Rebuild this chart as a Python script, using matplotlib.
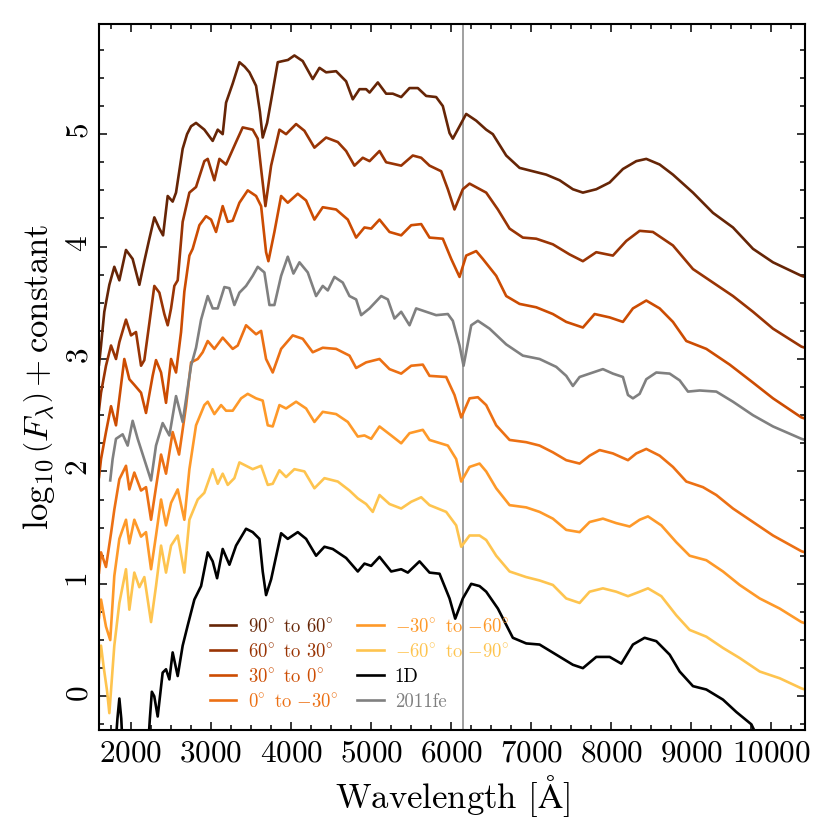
import matplotlib
matplotlib.use('Agg')
import matplotlib.pyplot as plt
from matplotlib.ticker import MultipleLocator

plt.rcParams['font.family'] = 'cmr10'
plt.rcParams['mathtext.fontset'] = 'cm'
plt.rcParams['axes.formatter.use_mathtext'] = True
plt.rcParams['axes.unicode_minus'] = False

# spectra (wavelength in Angstrom, log10 flux + offset)
wave_9060 = [1600, 1625, 1666, 1729, 1791, 1854, 1937, 2020, 2104, 2166, 2229, 2291, 2354, 2400, 2458,
             2520, 2562, 2645, 2700, 2750, 2812, 2916, 3020, 3083, 3145, 3187, 3270, 3354, 3420, 3479,
             3562, 3610, 3645, 3700, 3750, 3833, 3895, 3960, 4041, 4145, 4270, 4354, 4437, 4562, 4687,
             4770, 4854, 4937, 4980, 5083, 5187, 5270, 5375, 5479, 5583, 5687, 5812, 5895, 5979, 6020,
             6104, 6187, 6312, 6437, 6520, 6687, 6854, 7020, 7187, 7354, 7520, 7645, 7812, 7979, 8145,
             8312, 8437, 8604, 8770, 9020, 9270, 9520, 9770, 10020, 10375, 10420]
flux_9060 = [2.95, 3.12, 3.42, 3.66, 3.82, 3.70, 3.97, 3.89, 3.66, 3.87, 4.07, 4.26, 4.16, 4.10, 4.45,
             4.40, 4.48, 4.87, 5.00, 5.07, 5.10, 5.04, 4.94, 5.04, 5.00, 5.28, 5.45, 5.64, 5.60, 5.55,
             5.43, 5.20, 4.97, 5.10, 5.30, 5.64, 5.65, 5.66, 5.70, 5.65, 5.49, 5.59, 5.55, 5.56, 5.47,
             5.31, 5.40, 5.40, 5.37, 5.46, 5.36, 5.36, 5.33, 5.41, 5.41, 5.34, 5.33, 5.25, 5.01, 4.96,
             5.07, 5.18, 5.12, 5.04, 5.00, 4.81, 4.70, 4.67, 4.64, 4.59, 4.51, 4.48, 4.51, 4.57, 4.69,
             4.76, 4.78, 4.73, 4.64, 4.48, 4.30, 4.17, 3.98, 3.86, 3.74, 3.73]

wave_6030 = [1600, 1625, 1687, 1750, 1812, 1854, 1937, 2000, 2062, 2125, 2166, 2229, 2291, 2354, 2416,
             2458, 2500, 2541, 2583, 2645, 2729, 2812, 2916, 2958, 3041, 3104, 3187, 3312, 3395, 3520,
             3583, 3625, 3679, 3750, 3854, 3937, 4062, 4166, 4291, 4437, 4583, 4687, 4791, 4895, 4980,
             5104, 5187, 5375, 5520, 5625, 5729, 5875, 5958, 6041, 6145, 6229, 6437, 6583, 6729, 6895,
             7062, 7270, 7479, 7645, 7812, 8020, 8187, 8354, 8520, 8770, 9020, 9270, 9520, 9770, 10020,
             10375, 10420]
flux_6030 = [2.55, 2.70, 2.94, 3.12, 3.00, 3.15, 3.35, 3.21, 3.24, 2.94, 2.99, 3.32, 3.65, 3.59, 3.40,
             3.30, 3.45, 3.65, 3.70, 4.22, 4.48, 4.53, 4.76, 4.78, 4.59, 4.78, 4.73, 4.93, 5.06, 5.04,
             4.96, 4.69, 4.36, 4.72, 5.04, 5.00, 5.09, 5.03, 4.88, 4.97, 4.93, 4.85, 4.72, 4.79, 4.76,
             4.85, 4.75, 4.72, 4.81, 4.79, 4.72, 4.67, 4.51, 4.33, 4.51, 4.56, 4.48, 4.33, 4.16, 4.08,
             4.07, 4.02, 3.93, 3.87, 3.95, 3.92, 4.05, 4.14, 4.13, 4.01, 3.80, 3.68, 3.56, 3.42, 3.27,
             3.11, 3.10]

wave_300 = [1600, 1625, 1687, 1750, 1812, 1916, 1979, 2041, 2125, 2187, 2270, 2312, 2375, 2437, 2500,
            2562, 2625, 2666, 2729, 2770, 2854, 2937, 3000, 3062, 3145, 3208, 3270, 3354, 3458, 3562,
            3625, 3687, 3716, 3791, 3875, 3958, 4083, 4187, 4291, 4395, 4562, 4708, 4812, 4916, 5000,
            5104, 5229, 5375, 5500, 5625, 5729, 5895, 6000, 6104, 6187, 6312, 6395, 6562, 6687, 6854,
            7062, 7270, 7437, 7645, 7791, 7979, 8145, 8270, 8437, 8604, 8770, 8937, 9187, 9479, 9770,
            10020, 10375, 10420]
flux_300 = [1.95, 2.11, 2.35, 2.58, 2.41, 3.00, 2.82, 2.77, 2.70, 2.52, 2.85, 2.99, 2.88, 2.61, 3.00,
            2.88, 3.24, 3.60, 3.92, 3.98, 4.19, 4.27, 4.24, 4.13, 4.36, 4.22, 4.23, 4.39, 4.50, 4.45,
            4.36, 3.95, 3.87, 4.13, 4.45, 4.39, 4.47, 4.41, 4.24, 4.35, 4.33, 4.24, 4.08, 4.17, 4.16,
            4.24, 4.13, 4.10, 4.19, 4.20, 4.08, 4.07, 3.89, 3.73, 3.92, 3.96, 3.89, 3.74, 3.56, 3.49,
            3.46, 3.40, 3.33, 3.28, 3.40, 3.37, 3.33, 3.45, 3.52, 3.45, 3.33, 3.16, 3.09, 2.95, 2.79,
            2.65, 2.48, 2.47]

wave_0m30 = [1600, 1625, 1687, 1750, 1791, 1854, 1937, 1979, 2041, 2125, 2187, 2250, 2312, 2375, 2437,
             2520, 2600, 2687, 2750, 2833, 2895, 2958, 3041, 3145, 3270, 3333, 3437, 3562, 3625, 3687,
             3770, 3875, 4020, 4145, 4270, 4395, 4562, 4729, 4812, 4937, 5104, 5229, 5375, 5500, 5645,
             5729, 5937, 6041, 6125, 6229, 6333, 6437, 6562, 6729, 6937, 7104, 7270, 7437, 7604, 7729,
             7854, 8020, 8208, 8312, 8437, 8604, 8770, 8937, 9145, 9312, 9520, 9770, 10020, 10375, 10420]
flux_0m30 = [1.10, 1.28, 1.15, 1.45, 1.66, 1.93, 2.05, 1.84, 1.99, 1.83, 1.86, 1.57, 1.86, 2.15, 1.98,
             2.35, 2.15, 2.58, 2.97, 3.00, 3.06, 3.16, 3.09, 3.19, 3.09, 3.12, 3.30, 3.22, 3.25, 3.00,
             2.88, 3.09, 3.21, 3.18, 3.06, 3.10, 3.09, 3.03, 2.92, 2.97, 3.00, 2.91, 2.87, 2.94, 2.95,
             2.85, 2.84, 2.68, 2.48, 2.65, 2.66, 2.59, 2.41, 2.28, 2.26, 2.23, 2.17, 2.10, 2.07, 2.14,
             2.19, 2.16, 2.10, 2.16, 2.20, 2.14, 2.04, 1.91, 1.86, 1.79, 1.67, 1.55, 1.43, 1.29, 1.28]

wave_m3060 = [1600, 1625, 1687, 1740, 1791, 1854, 1937, 1979, 2041, 2125, 2187, 2250, 2312, 2375, 2437,
              2500, 2583, 2666, 2729, 2812, 2916, 2958, 3041, 3125, 3187, 3270, 3375, 3458, 3562, 3645,
              3708, 3770, 3854, 3937, 4062, 4187, 4291, 4395, 4562, 4708, 4833, 4916, 5000, 5104, 5250,
              5375, 5479, 5645, 5729, 5958, 6062, 6125, 6229, 6354, 6437, 6562, 6729, 6937, 7104, 7270,
              7437, 7604, 7729, 7895, 8062, 8229, 8354, 8458, 8625, 8812, 8979, 9187, 9395, 9604, 9854,
              10104, 10375, 10420]
flux_m3060 = [0.70, 0.86, 0.62, 0.50, 1.07, 1.40, 1.57, 1.36, 1.57, 1.42, 1.46, 1.13, 1.43, 1.75, 1.52,
              1.72, 1.84, 1.57, 2.02, 2.41, 2.59, 2.62, 2.51, 2.59, 2.54, 2.54, 2.65, 2.69, 2.65, 2.63,
              2.41, 2.40, 2.59, 2.56, 2.62, 2.56, 2.44, 2.53, 2.51, 2.44, 2.31, 2.32, 2.29, 2.40, 2.32,
              2.25, 2.34, 2.37, 2.28, 2.23, 2.11, 1.91, 2.04, 2.07, 2.00, 1.85, 1.70, 1.68, 1.64, 1.58,
              1.48, 1.46, 1.55, 1.58, 1.54, 1.51, 1.57, 1.60, 1.52, 1.37, 1.25, 1.21, 1.11, 0.99, 0.87,
              0.78, 0.66, 0.65]

wave_m6090 = [1600, 1625, 1660, 1700, 1729, 1791, 1854, 1937, 1979, 2041, 2104, 2166, 2250, 2312, 2375,
              2437, 2500, 2583, 2666, 2729, 2833, 2916, 3020, 3083, 3145, 3208, 3291, 3354, 3437, 3520,
              3625, 3708, 3770, 3854, 3937, 4041, 4166, 4291, 4416, 4583, 4729, 4833, 4937, 5020, 5104,
              5229, 5375, 5500, 5625, 5729, 5937, 6062, 6125, 6229, 6354, 6437, 6562, 6729, 6937, 7104,
              7270, 7437, 7604, 7729, 7895, 8062, 8208, 8354, 8458, 8625, 8812, 8979, 9187, 9395, 9604,
              9854, 10104, 10375, 10420]
flux_m6090 = [0.30, 0.45, 0.25, 0.05, -0.15, 0.45, 0.83, 1.13, 0.77, 1.10, 0.97, 1.06, 0.66, 0.98, 1.34,
              1.10, 1.34, 1.43, 1.10, 1.57, 1.75, 1.81, 2.02, 1.89, 1.98, 1.88, 1.94, 2.08, 2.05, 2.02,
              2.05, 1.88, 1.89, 2.01, 1.95, 2.02, 2.00, 1.85, 1.94, 1.91, 1.83, 1.76, 1.71, 1.64, 1.79,
              1.71, 1.67, 1.73, 1.77, 1.70, 1.64, 1.52, 1.33, 1.43, 1.43, 1.39, 1.25, 1.11, 1.06, 1.03,
              0.99, 0.87, 0.83, 0.93, 0.96, 0.93, 0.89, 0.93, 0.96, 0.89, 0.72, 0.59, 0.53, 0.43, 0.34,
              0.22, 0.16, 0.07, 0.06]

wave_1d = [1600, 1790, 1830, 1854, 1878, 1905, 2200, 2235, 2260, 2290, 2333, 2395, 2437, 2479, 2520,
           2583, 2645, 2708, 2791, 2875, 2958, 3020, 3075, 3145, 3229, 3312, 3437, 3520, 3604, 3645,
           3687, 3750, 3875, 3958, 4083, 4187, 4312, 4416, 4520, 4687, 4833, 4916, 5000, 5104, 5250,
           5375, 5458, 5604, 5729, 5854, 5979, 6050, 6145, 6250, 6354, 6437, 6583, 6770, 6937, 7104,
           7312, 7520, 7645, 7812, 7979, 8125, 8270, 8416, 8562, 8729, 8854, 9020, 9187, 9395, 9562,
           9750, 9850]
flux_1d = [-0.80, -0.60, -0.20, -0.02, -0.20, -0.60, -0.60, -0.20, 0.04, 0.00, -0.18, 0.21, 0.24, 0.15, 0.39,
           0.18, 0.45, 0.63, 0.86, 0.98, 1.28, 1.20, 1.05, 1.31, 1.17, 1.34, 1.49, 1.46, 1.40, 1.11,
           0.90, 1.04, 1.45, 1.40, 1.46, 1.40, 1.25, 1.33, 1.31, 1.23, 1.11, 1.18, 1.16, 1.24, 1.11,
           1.13, 1.10, 1.20, 1.10, 1.09, 0.87, 0.69, 0.87, 1.00, 0.98, 0.93, 0.78, 0.52, 0.47, 0.46,
           0.37, 0.28, 0.25, 0.35, 0.35, 0.29, 0.46, 0.52, 0.49, 0.37, 0.22, 0.09, 0.06, -0.03, -0.14,
           -0.25, -0.40]

wave_fe = [1740, 1770, 1812, 1895, 1958, 2020, 2083, 2187, 2250, 2312, 2395, 2479, 2562, 2645, 2750,
           2812, 2875, 2958, 3020, 3083, 3166, 3229, 3291, 3354, 3437, 3520, 3583, 3666, 3729, 3791,
           3875, 3958, 4029, 4104, 4208, 4312, 4395, 4458, 4541, 4645, 4729, 4812, 4875, 4979, 5125,
           5208, 5291, 5375, 5479, 5562, 5687, 5812, 5958, 6020, 6104, 6154, 6250, 6333, 6479, 6687,
           6895, 7104, 7312, 7437, 7520, 7604, 7770, 7895, 8020, 8145, 8208, 8270, 8354, 8437, 8562,
           8729, 8854, 8958, 9104, 9312, 9520, 9770, 10020, 10375, 10420]
flux_fe = [1.92, 2.11, 2.29, 2.33, 2.23, 2.45, 2.29, 2.06, 1.92, 2.23, 2.43, 2.32, 2.67, 2.44, 2.94,
           3.10, 3.35, 3.56, 3.45, 3.45, 3.64, 3.63, 3.48, 3.59, 3.65, 3.74, 3.82, 3.77, 3.48, 3.48,
           3.74, 3.91, 3.76, 3.86, 3.77, 3.56, 3.65, 3.61, 3.73, 3.68, 3.56, 3.53, 3.39, 3.45, 3.56,
           3.53, 3.36, 3.42, 3.30, 3.45, 3.42, 3.39, 3.40, 3.34, 3.12, 2.94, 3.30, 3.34, 3.27, 3.13,
           3.03, 3.00, 2.93, 2.85, 2.76, 2.84, 2.88, 2.91, 2.87, 2.84, 2.68, 2.65, 2.69, 2.82, 2.88,
           2.87, 2.81, 2.71, 2.72, 2.71, 2.62, 2.50, 2.40, 2.29, 2.28]

line_wave = 6150

fig = plt.figure(figsize=(8.3, 8.3), dpi=100)
ax = fig.add_axes([0.1193, 0.1205, 0.8506, 0.8506])

ax.axvline(line_wave, color='#999999', lw=1.3, zorder=0)

ax.plot(wave_9060, flux_9060, color='#662506', lw=1.9, label=r'$90\!^\circ$ to $60\!^\circ$')
ax.plot(wave_6030, flux_6030, color='#993404', lw=1.9, label=r'$60\!^\circ$ to $30\!^\circ$')
ax.plot(wave_300, flux_300, color='#cc4c02', lw=1.9, label=r'$30\!^\circ$ to $0\!^\circ$')
ax.plot(wave_0m30, flux_0m30, color='#ec7014', lw=1.9, label=r'$0\!^\circ$ to $-30\!^\circ$')
ax.plot(wave_m3060, flux_m3060, color='#fe9929', lw=1.9, label=r'$-30\!^\circ$ to $-60\!^\circ$')
ax.plot(wave_m6090, flux_m6090, color='#fec44f', lw=1.9, label=r'$-60\!^\circ$ to $-90\!^\circ$')
ax.plot(wave_1d, flux_1d, color='black', lw=1.9, label='1D')
ax.plot(wave_fe, flux_fe, color='#808080', lw=1.9, label='2011fe')

ax.set_xlim(1600, 10420)
ax.set_ylim(-0.3, 5.98)

ax.xaxis.set_major_locator(MultipleLocator(1000))
ax.xaxis.set_minor_locator(MultipleLocator(250))
ax.yaxis.set_major_locator(MultipleLocator(1))
ax.yaxis.set_minor_locator(MultipleLocator(0.25))
ax.tick_params(which='both', direction='in', top=True, right=True, width=1.1)
ax.tick_params(which='major', length=6, labelsize=22.5)
ax.tick_params(axis='x', which='major', pad=7)
ax.tick_params(axis='y', which='major', pad=4, labelrotation=90)
ax.tick_params(which='minor', length=3.5)
for sp in ax.spines.values():
    sp.set_linewidth(1.5)

ax.set_xlabel(r'Wavelength [$\mathrm{\AA}$]', fontsize=25, labelpad=4)
ax.set_ylabel(r'$\log_{10}\left(F_\lambda\right) + \mathrm{constant}$', fontsize=25, labelpad=6)

ax.legend(ncol=2, frameon=False, fontsize=13.5, labelcolor='linecolor', loc='lower left',
          bbox_to_anchor=(0.157, 0.027), borderaxespad=0, borderpad=0, handlelength=1.42,
          handletextpad=0.6, columnspacing=1.0, labelspacing=0.38)

fig.savefig('out.png', dpi=100)
